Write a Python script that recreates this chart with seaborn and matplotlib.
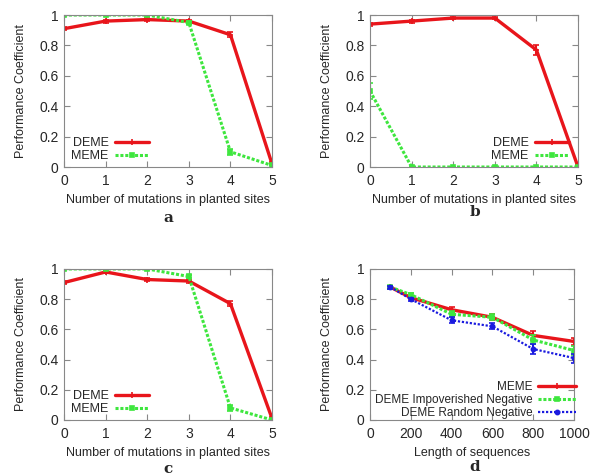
import numpy as np
import pandas as pd
import matplotlib
matplotlib.use('Agg')
import matplotlib.pyplot as plt
import seaborn as sns

sns.set_style('ticks')
plt.rcParams['font.family'] = ['Liberation Sans', 'DejaVu Sans']

# Data
mutations = [0, 1, 2, 3, 4, 5]

a_deme = [0.91, 0.96, 0.97, 0.96, 0.87, 0.02]
a_deme_err = [0.01, 0.01, 0.01, 0.01, 0.015, 0.01]
a_meme = [1.0, 1.0, 1.0, 0.95, 0.10, 0.01]
a_meme_err = [0.0, 0.0, 0.0, 0.01, 0.02, 0.0]

b_deme = [0.94, 0.96, 0.98, 0.98, 0.77, 0.0]
b_deme_err = [0.01, 0.01, 0.005, 0.005, 0.03, 0.01]
b_meme = [0.50, 0.0, 0.0, 0.0, 0.0, 0.0]
b_meme_err = [0.05, 0.0, 0.0, 0.0, 0.0, 0.0]

c_deme = [0.91, 0.98, 0.93, 0.92, 0.77, 0.01]
c_deme_err = [0.01, 0.01, 0.01, 0.01, 0.015, 0.01]
c_meme = [1.0, 1.0, 1.0, 0.95, 0.08, 0.0]
c_meme_err = [0.0, 0.0, 0.0, 0.01, 0.02, 0.0]

lengths = [100, 200, 400, 600, 800, 1000]
d_meme = [0.88, 0.81, 0.73, 0.68, 0.56, 0.52]
d_meme_err = [0.005, 0.01, 0.02, 0.02, 0.03, 0.025]
d_imp = [0.88, 0.83, 0.70, 0.68, 0.53, 0.46]
d_imp_err = [0.01, 0.01, 0.02, 0.02, 0.03, 0.03]
d_rand = [0.88, 0.80, 0.66, 0.62, 0.47, 0.41]
d_rand_err = [0.01, 0.01, 0.02, 0.02, 0.03, 0.03]

RED = '#e8151b'
GREEN = '#3ee63e'
BLUE = '#1a1adf'

red_st = dict(color=RED, ls='-', lw=2.4, marker='+', ms=5)
green_st = dict(color=GREEN, ls=(0, (1, 0.6)), lw=2.2, marker='s', ms=2.5)
blue_st = dict(color=BLUE, ls=(0, (1, 0.8)), lw=1.6, marker='o', ms=3)


def draw(ax, x, series, legend_loc, xticks, xlabel, xlim, bbox, hlen=2.7, lfs=9):
    for name, y, err, st in series:
        df = pd.DataFrame({'x': x, 'y': y})
        sns.lineplot(data=df, x='x', y='y', ax=ax, color=st['color'],
                     linestyle=st['ls'], linewidth=st['lw'], marker=st['marker'],
                     markersize=st['ms'], markeredgecolor=st['color'],
                     markeredgewidth=1.2, label=name)
        ax.errorbar(x, y, yerr=err, fmt='none', ecolor=st['color'],
                    elinewidth=1.5, capsize=2, capthick=1.2)
    ax.set_xlim(*xlim)
    ax.set_ylim(0, 1)
    ax.set_xticks(xticks)
    ax.set_yticks([0, 0.2, 0.4, 0.6, 0.8, 1])
    ax.set_yticklabels(['0', '0.2', '0.4', '0.6', '0.8', '1'])
    ax.tick_params(direction='in', top=True, right=True, length=4,
                   color='#888888', labelsize=10, pad=4)
    ax.tick_params(axis='x', pad=5)
    for sp in ax.spines.values():
        sp.set_color('#888888')
        sp.set_linewidth(0.8)
    ax.set_xlabel(xlabel, fontsize=9, labelpad=4.5)
    ax.set_ylabel('Performance Coefficient', fontsize=9, labelpad=9)
    ax.legend(loc=legend_loc, bbox_to_anchor=bbox, frameon=False,
              markerfirst=False, fontsize=lfs, handlelength=hlen,
              handletextpad=0.5, labelspacing=0.1, borderaxespad=0.0,
              borderpad=0.0)


fig = plt.figure(figsize=(6, 4.75), dpi=100)
W = 0.3467
ax_a = fig.add_axes([0.1067, 0.6484, W, 0.32])
ax_b = fig.add_axes([0.6167, 0.6484, W, 0.32])
ax_c = fig.add_axes([0.1067, 0.1158, W, 0.318])
ax_d = fig.add_axes([0.6167, 0.1158, 0.34, 0.318])

mlabel = 'Number of mutations in planted sites'
draw(ax_a, mutations, [('DEME', a_deme, a_deme_err, red_st),
                       ('MEME', a_meme, a_meme_err, green_st)],
     'lower left', mutations, mlabel, (0, 5), (0.035, 0.03))
draw(ax_b, mutations, [('DEME', b_deme, b_deme_err, red_st),
                       ('MEME', b_meme, b_meme_err, green_st)],
     'lower right', mutations, mlabel, (0, 5), (0.955, 0.03))
draw(ax_c, mutations, [('DEME', c_deme, c_deme_err, red_st),
                       ('MEME', c_meme, c_meme_err, green_st)],
     'lower left', mutations, mlabel, (0, 5), (0.035, 0.03))
draw(ax_d, lengths, [('MEME', d_meme, d_meme_err, red_st),
                     ('DEME Impoverished Negative', d_imp, d_imp_err, green_st),
                     ('DEME Random Negative', d_rand, d_rand_err, blue_st)],
     'lower right', [0, 200, 400, 600, 800, 1000], 'Length of sequences',
     (0, 1000), (1.01, 0.005), hlen=3.2, lfs=8.5)

for x, y, lab in [(168, 218, 'a'), (475, 212, 'b'), (168, 469, 'c'), (475, 467, 'd')]:
    fig.text(x / 600, 1 - y / 475, lab, ha='center', va='center',
             fontsize=11, fontweight='bold', family='DejaVu Serif')

fig.savefig('out.png', dpi=100)
